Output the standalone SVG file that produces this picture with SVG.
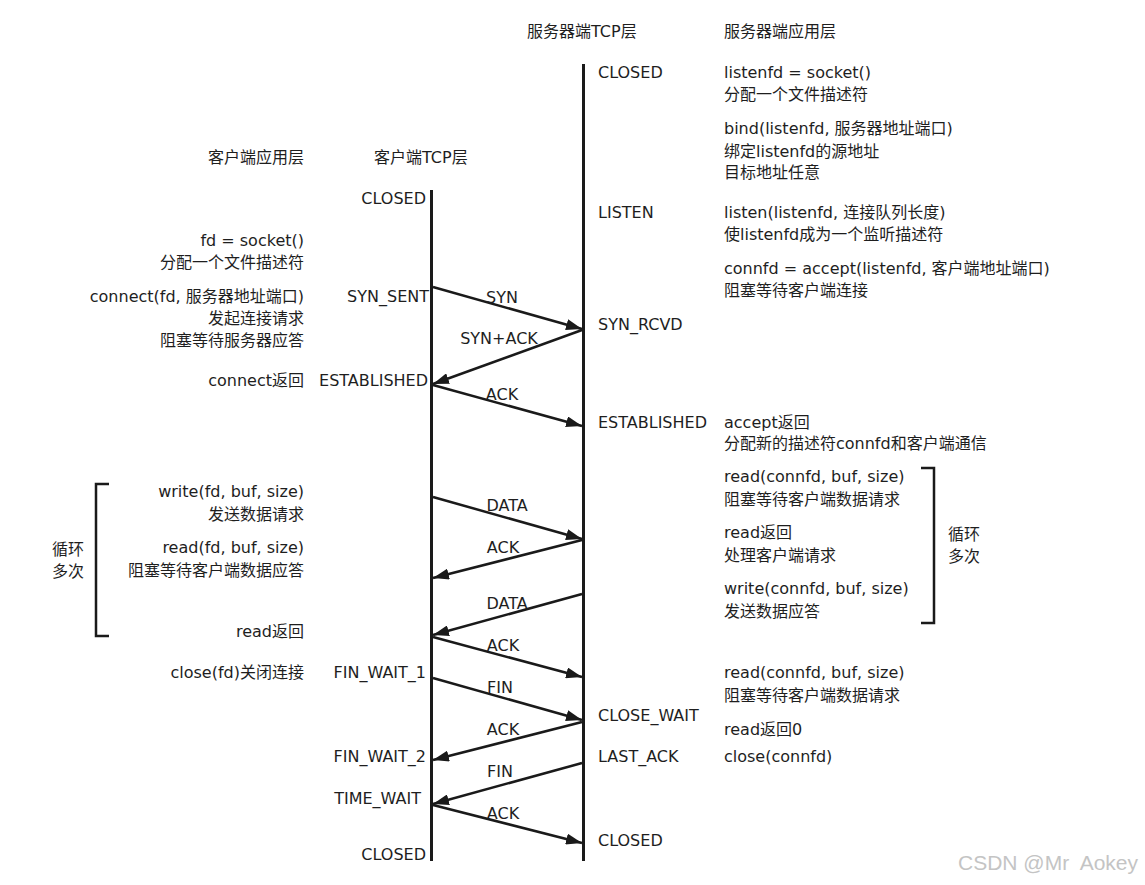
<svg xmlns="http://www.w3.org/2000/svg" width="1145" height="885" viewBox="0 0 1145 885">
<style>
text{font-family:"DejaVu Sans","Noto Sans CJK SC",sans-serif;font-size:16px;fill:#1e1e1e;}
.r{text-anchor:end;}
.m{text-anchor:middle;}
.life{stroke:#1a1a1a;stroke-width:3;fill:none;}
.msg{stroke:#1a1a1a;stroke-width:2.5;fill:none;marker-end:url(#ah);}
.br{stroke:#1a1a1a;stroke-width:2.5;fill:none;}
.wm{font-family:"Liberation Sans",Arial,sans-serif;font-size:21px;fill:#c4c4c4;white-space:pre;}
</style>
<defs>
<marker id="ah" markerWidth="16" markerHeight="11" refX="16" refY="5.5" orient="auto" markerUnits="userSpaceOnUse">
<path d="M0,0 L16,5.5 L0,11 z" fill="#1a1a1a"/>
</marker>
</defs>
<rect width="1145" height="885" fill="#ffffff"/>

<g id="headers">
<text x="527" y="37">服务器端TCP层</text>
<text x="724" y="37">服务器端应用层</text>
<text class="r" x="304" y="163">客户端应用层</text>
<text x="374" y="163">客户端TCP层</text>
</g>

<g id="lifelines">
<line id="client-line" class="life" x1="431.5" y1="190" x2="431.5" y2="861"/>
<line id="server-line" class="life" x1="583.5" y1="64" x2="583.5" y2="861"/>
</g>

<g id="client-states">
<text class="r" x="426" y="204">CLOSED</text>
<text class="r" x="429" y="302">SYN_SENT</text>
<text class="r" x="428" y="386">ESTABLISHED</text>
<text class="r" x="426" y="678">FIN_WAIT_1</text>
<text class="r" x="426" y="762">FIN_WAIT_2</text>
<text class="r" x="421" y="804">TIME_WAIT</text>
<text class="r" x="426" y="860">CLOSED</text>
</g>

<g id="server-states">
<text x="598" y="78">CLOSED</text>
<text x="598" y="218">LISTEN</text>
<text x="598" y="330">SYN_RCVD</text>
<text x="598" y="428">ESTABLISHED</text>
<text x="598" y="721">CLOSE_WAIT</text>
<text x="598" y="762">LAST_ACK</text>
<text x="598" y="846">CLOSED</text>
</g>

<g id="client-app">
<text class="r" x="304" y="246">fd = socket()</text>
<text class="r" x="304" y="268">分配一个文件描述符</text>
<text class="r" x="304" y="302">connect(fd, 服务器地址端口)</text>
<text class="r" x="304" y="324">发起连接请求</text>
<text class="r" x="304" y="346">阻塞等待服务器应答</text>
<text class="r" x="304" y="386">connect返回</text>
<text class="r" x="304" y="497">write(fd, buf, size)</text>
<text class="r" x="304" y="520">发送数据请求</text>
<text class="r" x="304" y="553">read(fd, buf, size)</text>
<text class="r" x="304" y="576">阻塞等待客户端数据应答</text>
<text class="r" x="304" y="637">read返回</text>
<text class="r" x="304" y="678">close(fd)关闭连接</text>
</g>

<g id="client-loop">
<path class="br" d="M109,484 H96 V636 H109"/>
<text x="52" y="555">循环</text>
<text x="52" y="577">多次</text>
</g>

<g id="server-app">
<text x="724" y="78">listenfd = socket()</text>
<text x="724" y="100">分配一个文件描述符</text>
<text x="724" y="134">bind(listenfd, 服务器地址端口)</text>
<text x="724" y="157">绑定listenfd的源地址</text>
<text x="724" y="178">目标地址任意</text>
<text x="724" y="218">listen(listenfd, 连接队列长度)</text>
<text x="724" y="240">使listenfd成为一个监听描述符</text>
<text x="724" y="274">connfd = accept(listenfd, 客户端地址端口)</text>
<text x="724" y="296">阻塞等待客户端连接</text>
<text x="724" y="428">accept返回</text>
<text x="724" y="449">分配新的描述符connfd和客户端通信</text>
<text x="724" y="482">read(connfd, buf, size)</text>
<text x="724" y="505">阻塞等待客户端数据请求</text>
<text x="724" y="538">read返回</text>
<text x="724" y="561">处理客户端请求</text>
<text x="724" y="594">write(connfd, buf, size)</text>
<text x="724" y="617">发送数据应答</text>
<text x="724" y="678">read(connfd, buf, size)</text>
<text x="724" y="701">阻塞等待客户端数据请求</text>
<text x="724" y="735">read返回0</text>
<text x="724" y="762">close(connfd)</text>
</g>

<g id="server-loop">
<path class="br" d="M921,468 H934 V623 H921"/>
<text x="948" y="540">循环</text>
<text x="948" y="562">多次</text>
</g>

<g id="connectors">
<line class="msg" x1="433" y1="287" x2="582" y2="329"/>
<line class="msg" x1="582" y1="330" x2="433" y2="384"/>
<line class="msg" x1="433" y1="385" x2="582" y2="426"/>
<line class="msg" x1="433" y1="497" x2="582" y2="539"/>
<line class="msg" x1="582" y1="540" x2="433" y2="578"/>
<line class="msg" x1="582" y1="594" x2="433" y2="635"/>
<line class="msg" x1="433" y1="637" x2="582" y2="677"/>
<line class="msg" x1="433" y1="678" x2="582" y2="720"/>
<line class="msg" x1="582" y1="722" x2="433" y2="760"/>
<line class="msg" x1="582" y1="763" x2="433" y2="804"/>
<line class="msg" x1="433" y1="805" x2="582" y2="843"/>
</g>

<g id="connector-labels">
<text class="m" x="502" y="303">SYN</text>
<text class="m" x="499" y="344">SYN+ACK</text>
<text class="m" x="502" y="400">ACK</text>
<text class="m" x="507" y="511">DATA</text>
<text class="m" x="503" y="553">ACK</text>
<text class="m" x="507" y="609">DATA</text>
<text class="m" x="503" y="651">ACK</text>
<text class="m" x="500" y="693">FIN</text>
<text class="m" x="503" y="735">ACK</text>
<text class="m" x="500" y="777">FIN</text>
<text class="m" x="503" y="819">ACK</text>
</g>

<text class="wm" x="958" y="870">CSDN @Mr  Aokey</text>
</svg>
